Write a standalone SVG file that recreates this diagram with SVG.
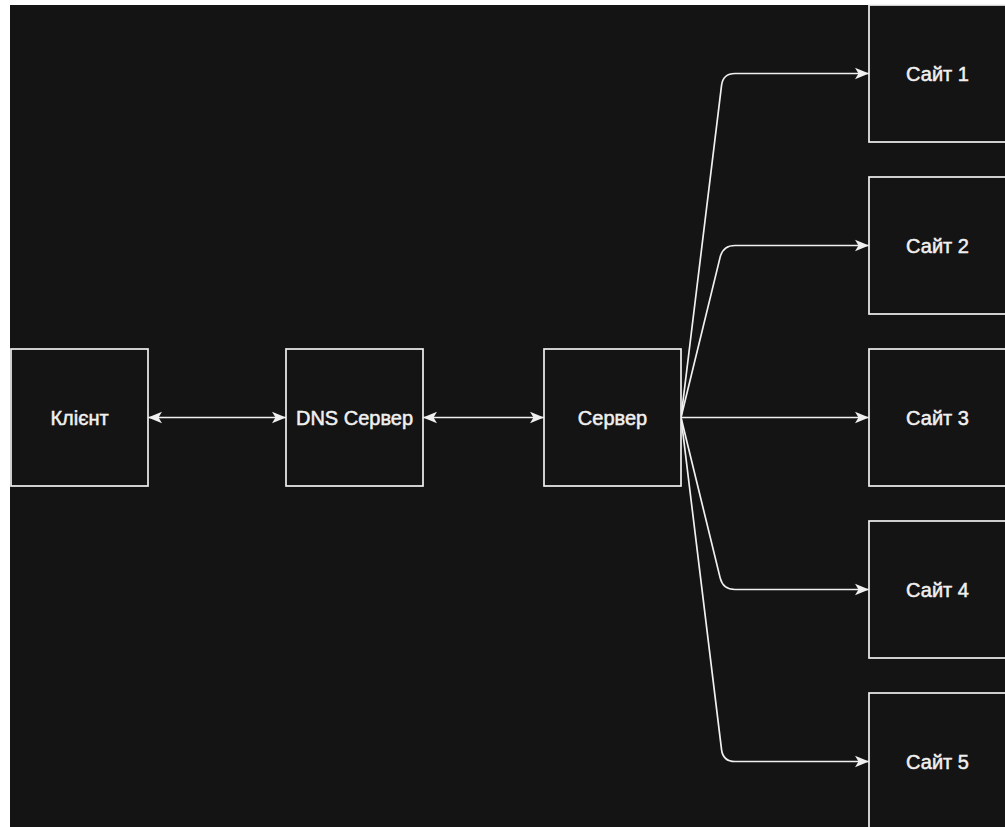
<svg xmlns="http://www.w3.org/2000/svg" width="1005" height="827" viewBox="0 0 1005 827">
  <style>
    .box { fill: #141414; stroke: #f0f0f0; stroke-width: 1.7; }
    .lbl { font-family: "Liberation Sans", Arial, sans-serif; font-size: 20px; fill: #f0f0f0; stroke: #f0f0f0; stroke-width: 0.5; text-anchor: middle; }
    .edge { fill: none; stroke: #f0f0f0; stroke-width: 1.7; }
  </style>
  <defs>
    <marker id="arrow" markerUnits="userSpaceOnUse" viewBox="-15 -7 16 14" refX="0" refY="0" markerWidth="16" markerHeight="14" orient="auto-start-reverse">
      <path d="M0,0 L-14,-5.8 L-10.5,0 L-14,5.8 Z" fill="#f0f0f0"/>
    </marker>
  </defs>
  <rect x="0" y="0" width="1005" height="827" fill="#ffffff"/>
  <rect x="10" y="5" width="995" height="822" fill="#141414"/>

  <g id="connectors">
    <path class="edge" d="M148,417.5 L286,417.5" marker-start="url(#arrow)" marker-end="url(#arrow)"/>
    <path class="edge" d="M423,417.5 L544,417.5" marker-start="url(#arrow)" marker-end="url(#arrow)"/>
    <path class="edge" d="M681,417.5 L721.55,85.41 Q723,73.5 735,73.5 L869,73.5" marker-end="url(#arrow)"/>
    <path class="edge" d="M681,417.5 L720.15,257.16 Q723,245.5 735,245.5 L869,245.5" marker-end="url(#arrow)"/>
    <path class="edge" d="M681,417.5 L869,417.5" marker-end="url(#arrow)"/>
    <path class="edge" d="M681,417.5 L720.15,577.84 Q723,589.5 735,589.5 L869,589.5" marker-end="url(#arrow)"/>
    <path class="edge" d="M681,417.5 L721.55,749.59 Q723,761.5 735,761.5 L869,761.5" marker-end="url(#arrow)"/>
  </g>

  <g id="client">
    <rect class="box" x="11" y="349" width="137" height="137"/>
    <text class="lbl" x="79.5" y="424.5">Клієнт</text>
  </g>
  <g id="dns">
    <rect class="box" x="286" y="349" width="137" height="137"/>
    <text class="lbl" x="354.5" y="424.5">DNS Сервер</text>
  </g>
  <g id="server">
    <rect class="box" x="544" y="349" width="137" height="137"/>
    <text class="lbl" x="612.5" y="424.5">Сервер</text>
  </g>
  <g id="site1">
    <rect class="box" x="869" y="5" width="137" height="137"/>
    <text class="lbl" x="937.5" y="80.5">Сайт 1</text>
  </g>
  <g id="site2">
    <rect class="box" x="869" y="177" width="137" height="137"/>
    <text class="lbl" x="937.5" y="252.5">Сайт 2</text>
  </g>
  <g id="site3">
    <rect class="box" x="869" y="349" width="137" height="137"/>
    <text class="lbl" x="937.5" y="424.5">Сайт 3</text>
  </g>
  <g id="site4">
    <rect class="box" x="869" y="521" width="137" height="137"/>
    <text class="lbl" x="937.5" y="596.5">Сайт 4</text>
  </g>
  <g id="site5">
    <rect class="box" x="869" y="693" width="137" height="137"/>
    <text class="lbl" x="937.5" y="768.5">Сайт 5</text>
  </g>
</svg>
